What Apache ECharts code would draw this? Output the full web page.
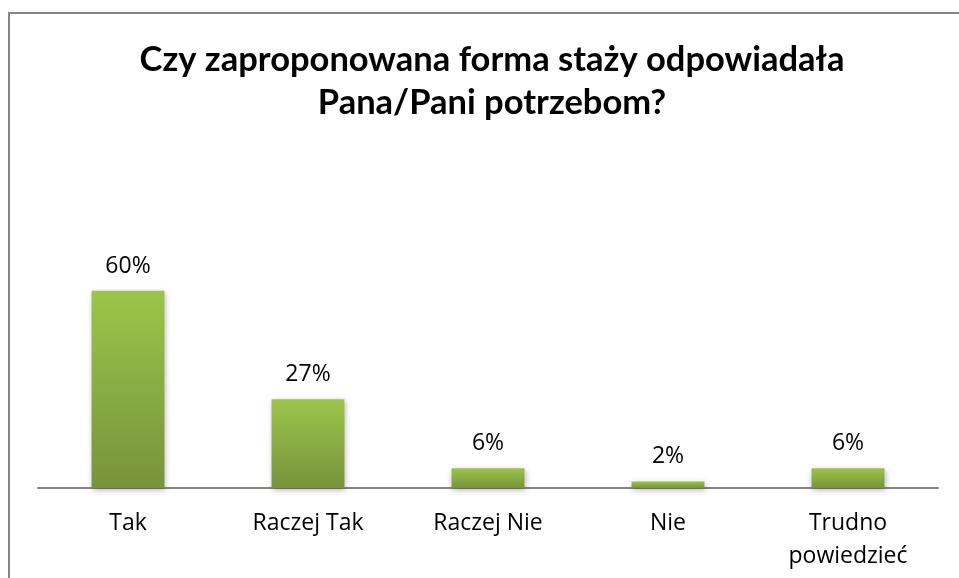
<!DOCTYPE html>
<html>
<head>
    <meta charset="utf-8">
    <title>ECharts</title>
    <script src="https://cdn.jsdelivr.net/npm/echarts@6/dist/echarts.min.js"></script>
    <style>
        html, body { margin: 0; padding: 0; background: #fff; }
    </style>
</head>
<body>
<div id="main" style="width: 959px;height:578px;"></div>
<script type="text/javascript">
    var categories = ['Tak', 'Raczej Tak', 'Raczej Nie', 'Nie', 'Trudno\npowiedzieć'];
    var values = [60, 27, 6, 2, 6];
    var titleText = 'Czy zaproponowana forma staży odpowiadała\nPana/Pani potrzebom?';

    var myChart = echarts.init(document.getElementById('main'));

    var option = {
        backgroundColor: '#fff',
        title: {
            text: titleText,
            left: 487,
            top: 33,
            textAlign: 'center',
            textStyle: {
                fontFamily: 'Lato',
                fontWeight: 'bold',
                fontSize: 34.5,
                lineHeight: 43,
                color: '#000'
            }
        },
        graphic: [{
            type: 'rect',
            shape: { x: 9, y: 13, width: 1000, height: 700 },
            style: { fill: 'none', stroke: '#868686', lineWidth: 2 },
            silent: true
        }],
        grid: {
            left: 38,
            right: 21,
            top: 258,
            bottom: 90
        },
        xAxis: {
            type: 'category',
            data: categories,
            axisLine: { lineStyle: { color: '#868686', width: 2 } },
            axisTick: { show: false },
            axisLabel: {
                color: '#000',
                fontFamily: 'Open Sans',
                fontSize: 23,
                lineHeight: 33,
                margin: 19
            }
        },
        yAxis: {
            type: 'value',
            min: 0,
            max: 70,
            show: false,
            splitLine: { show: false }
        },
        series: [{
            type: 'bar',
            data: values,
            barWidth: '40.5%',
            itemStyle: {
                color: new echarts.graphic.LinearGradient(0, 0, 0, 1, [
                    { offset: 0, color: '#9bc54a' },
                    { offset: 1, color: '#77933c' }
                ]),
                shadowColor: 'rgba(0,0,0,0.3)',
                shadowBlur: 6,
                shadowOffsetX: 1,
                shadowOffsetY: 2
            },
            label: {
                show: true,
                position: 'top',
                distance: 13,
                formatter: '{c}%',
                color: '#000',
                fontFamily: 'Open Sans',
                fontSize: 23
            }
        }]
    };

    myChart.setOption(option);
</script>
</body>
</html>
